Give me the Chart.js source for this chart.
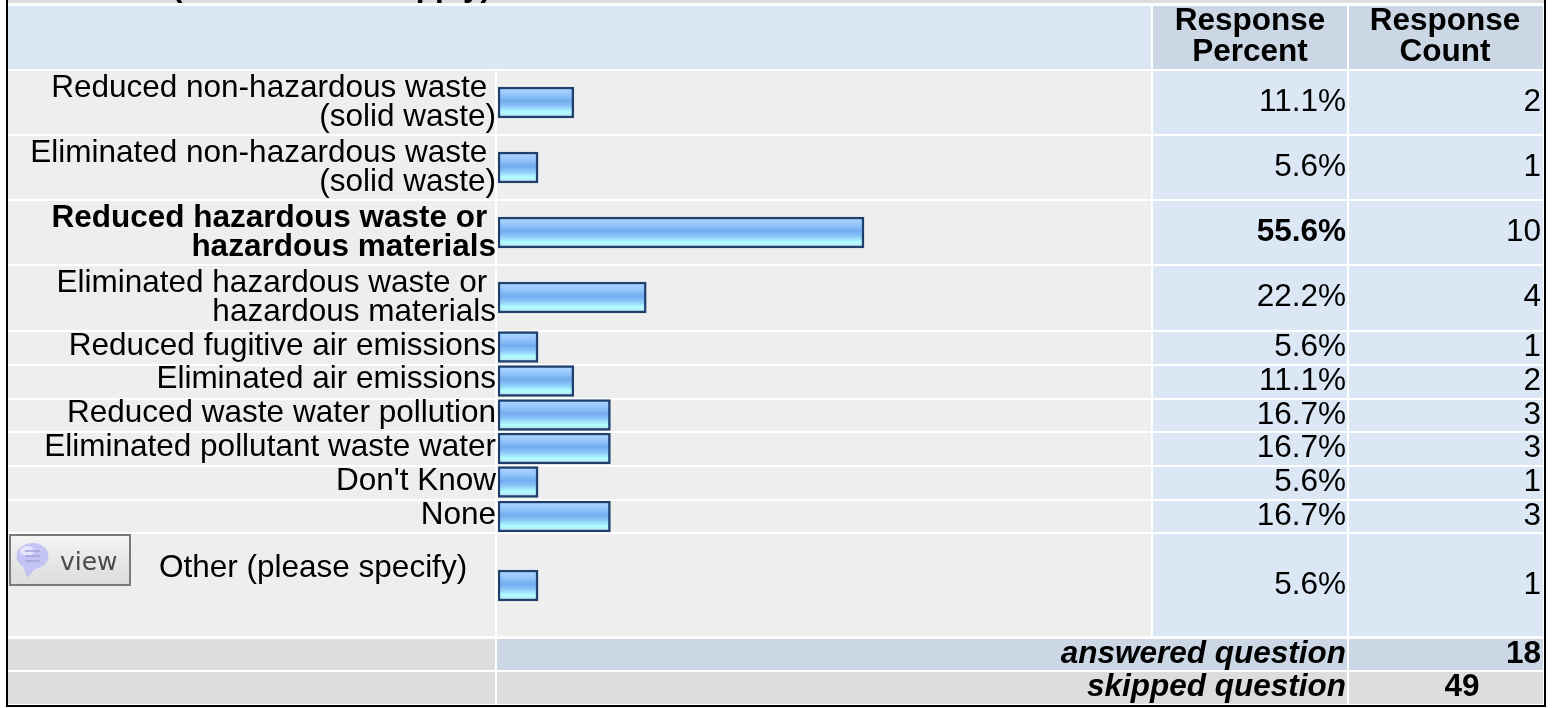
<!DOCTYPE html>
<html>
<head>
<meta charset="utf-8">
<style>html,body{margin:0;padding:0;background:#fff}canvas{display:block}</style>
<script src="https://cdn.jsdelivr.net/npm/chart.js@4/dist/chart.umd.min.js"></script>
</head>
<body>
<canvas id="c" width="1556" height="708" style="width:1556px;height:708px"></canvas>
<script>
const categories = [
  ["Reduced non-hazardous waste ", "(solid waste)"],
  ["Eliminated non-hazardous waste ", "(solid waste)"],
  ["Reduced hazardous waste or ", "hazardous materials"],
  ["Eliminated hazardous waste or ", "hazardous materials"],
  "Reduced fugitive air emissions",
  "Eliminated air emissions",
  "Reduced waste water pollution",
  "Eliminated pollutant waste water",
  "Don't Know",
  "None",
  ["Other (please specify)   \u200a", ""]
];
const percents = [11.1, 5.6, 55.6, 22.2, 5.6, 11.1, 16.7, 16.7, 5.6, 16.7, 5.6];
const counts = [2, 1, 10, 4, 1, 2, 3, 3, 1, 3, 1];
const boldRow = 2;
const percentHeader = ["Response", "Percent"];
const countHeader = ["Response", "Count"];
const answeredLabel = "answered question";
const skippedLabel = "skipped question";
const answered = 18;
const skipped = 49;

// layout of the table
const rowHeights = [65, 65, 65, 65, 34, 34, 34, 33, 34, 35, 103];
const labelNudge = [0.5, 0.5, 0.5, 0.5, -1, -2, -2, -1, -1, -1, -2];
const cellEdges = [[71,134],[136,199],[201,264],[266,330],[332,364],[366,398],[400,431],[433,465],[467,499],[501,532],[534,636]];
const FONT = '"Liberation Sans", Arial, sans-serif';
const FS = 31.5;

class RowScale extends Chart.CategoryScale {
  static id = 'rowscale';
  static defaults = Chart.CategoryScale.defaults;
  getPixelForValue(value) {
    const i = typeof value === 'number' ? value : this.parse(value);
    let y = this.top;
    for (let k = 0; k < i; k++) y += rowHeights[k];
    return y + rowHeights[i] / 2;
  }
  getPixelForTick(i) {
    return this.getPixelForValue(i) + labelNudge[i];
  }
}
Chart.register(RowScale);

const backdrop = {
  id: 'backdrop',
  beforeDraw(chart) {
    const c = chart.ctx;
    const rect = (col, x0, y0, x1, y1) => { c.fillStyle = col; c.fillRect(x0, y0, x1 - x0, y1 - y0); };
    c.save();
    rect('#ffffff', 0, 0, 1556, 708);
    rect('#dddddd', 8, 0, 1544, 3);
    // header
    rect('#dbe7f5', 8, 6, 1151, 69);
    rect('#cbd7e5', 1153, 6, 1347, 69);
    rect('#cbd7e5', 1349, 6, 1543, 69);
    // rows
    cellEdges.forEach(([a, b]) => {
      rect('#eeeeee', 8, a, 495, b);
      rect('#eeeeee', 497, a, 1151, b);
      rect('#dbe7f5', 1153, a, 1347, b);
      rect('#dbe7f5', 1349, a, 1543, b);
    });
    // summary rows
    rect('#dddddd', 8, 639, 495, 670);
    rect('#cbd7e5', 497, 639, 1347, 670);
    rect('#cbd7e5', 1349, 639, 1543, 670);
    rect('#dddddd', 8, 672, 495, 704);
    rect('#dddddd', 497, 672, 1347, 704);
    rect('#dddddd', 1349, 672, 1543, 704);
    // frame
    rect('#000000', 6, 0, 8, 707);
    rect('#000000', 1544, 0, 1546, 707);
    rect('#000000', 6, 705, 1546, 707);
    c.restore();
  }
};

const tableText = {
  id: 'tableText',
  afterDatasetsDraw(chart) {
    const c = chart.ctx;
    const y = chart.scales.y;
    c.save();
    c.textBaseline = 'middle';
    c.fillStyle = '#000';
    const put = (t, x, py, font, align) => { c.font = font; c.textAlign = align; c.fillText(t, x, py); };
    const plain = `${FS}px ${FONT}`, bold = `bold ${FS}px ${FONT}`, bi = `italic bold ${FS}px ${FONT}`;
    // clipped question line at the very top
    c.save();
    c.beginPath(); c.rect(8, 0, 1536, 3); c.clip();
    c.textBaseline = 'alphabetic';
    put("(", 172, -3.7, bold, 'left');
    put("apply)", 491, -3.7, bold, 'right');
    c.restore();
    // headers
    percentHeader.forEach((t, i) => put(t, 1250, 21.5 + i * 31, bold, 'center'));
    countHeader.forEach((t, i) => put(t, 1445, 21.5 + i * 31, bold, 'center'));
    // values
    percents.forEach((p, i) => {
      const py = y.getPixelForValue(i);
      put(p.toFixed(1) + '%', 1346, py, i === boldRow ? bold : plain, 'right');
      put(String(counts[i]), 1541, py, plain, 'right');
    });
    // summary
    put(answeredLabel, 1346, 654, bi, 'right');
    put(String(answered), 1541, 654, bold, 'right');
    put(skippedLabel, 1346, 687.5, bi, 'right');
    put(String(skipped), 1462, 687.5, bold, 'center');
    // view button
    const g = c.createLinearGradient(0, 535, 0, 585);
    g.addColorStop(0, '#f4f4f4'); g.addColorStop(1, '#dcdcdc');
    c.fillStyle = g; c.fillRect(10, 535, 120, 50);
    c.strokeStyle = '#7a7a7a'; c.lineWidth = 2; c.strokeRect(10, 535, 120, 50);
    c.fillStyle = '#c4c4f4';
    c.beginPath(); c.ellipse(32.5, 556, 16, 13, 0, 0, Math.PI * 2); c.fill();
    c.beginPath(); c.moveTo(22, 562); c.lineTo(27, 578); c.lineTo(38, 566); c.closePath(); c.fill();
    c.fillStyle = '#e4e4fc';
    c.beginPath(); c.ellipse(27, 551, 7, 5, 0, 0, Math.PI * 2); c.fill();
    c.strokeStyle = '#a2a2d8'; c.lineWidth = 1.5;
    [551, 556, 561].forEach((ly) => { c.beginPath(); c.moveTo(25, ly); c.lineTo(40, ly); c.stroke(); });
    c.fillStyle = '#4a4a4a';
    c.textBaseline = 'alphabetic';
    put("view", 60, 570, '25px "DejaVu Sans", sans-serif', 'left');
    c.restore();
  }
};

new Chart(document.getElementById('c'), {
  type: 'bar',
  plugins: [backdrop, tableText],
  data: {
    labels: categories,
    datasets: [{
      data: percents,
      base: -0.54,
      barThickness: 31,
      borderWidth: 2.5,
      borderSkipped: false,
      borderColor: '#1f3f6d',
      backgroundColor(ctx) {
        const sc = ctx.chart.scales.y;
        const mid = sc && ctx.index !== undefined ? sc.getPixelForValue(ctx.index) : NaN;
        if (!Number.isFinite(mid)) return '#7db4f5';
        const g = ctx.chart.ctx.createLinearGradient(0, mid - 14, 0, mid + 14);
        g.addColorStop(0, '#aad5ff');
        g.addColorStop(0.2, '#98c8fc');
        g.addColorStop(0.45, '#72acef');
        g.addColorStop(0.62, '#8ac4f8');
        g.addColorStop(0.85, '#b2ffff');
        g.addColorStop(1, '#bcdcf2');
        return g;
      }
    }]
  },
  options: {
    indexAxis: 'y',
    responsive: false,
    animation: false,
    events: [],
    layout: { padding: { left: 0, right: 402.5, top: 70, bottom: 71 } },
    plugins: { legend: { display: false }, tooltip: { enabled: false }, title: { display: false } },
    scales: {
      x: { type: 'linear', min: -0.54, max: 100, display: false },
      y: {
        type: 'rowscale',
        offset: true,
        grid: { display: false, drawTicks: false },
        border: { display: false },
        afterFit(s) { s.width = 498; },
        ticks: {
          autoSkip: false,
          padding: 2,
          crossAlign: 'near',
          color: '#000',
          font(ctx) {
            return { family: FONT, size: FS, lineHeight: 29.5 / FS, weight: ctx.index === boldRow ? 'bold' : 'normal' };
          }
        }
      }
    }
  }
});
</script>
</body>
</html>
